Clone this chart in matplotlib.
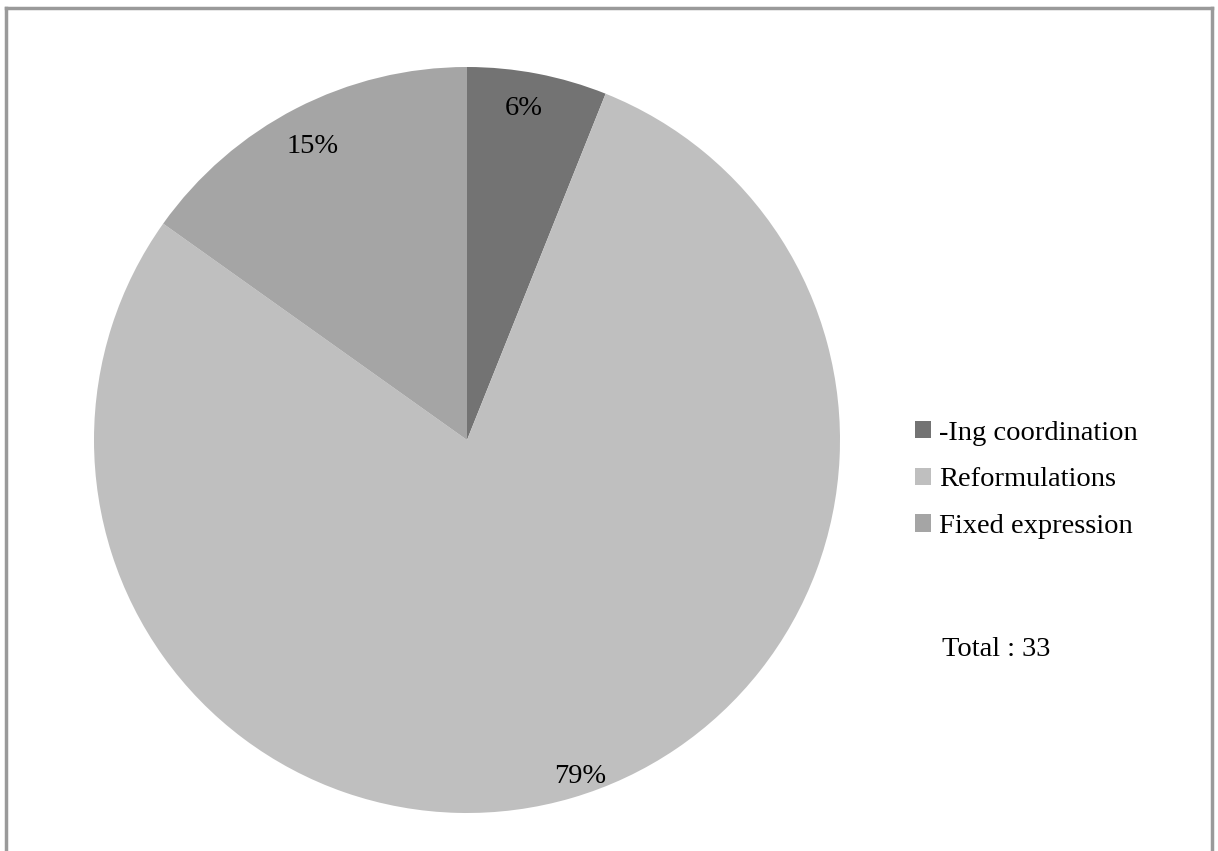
import matplotlib.pyplot as plt
from matplotlib.patches import Patch

categories = ["-Ing coordination", "Reformulations", "Fixed expression"]
counts = [2, 26, 5]
total = sum(counts)

colors = ["#737373", "#bfbfbf", "#a5a5a5"]
# label anchors in axes units (centre 0,0, radius 1)
label_pos = [(0.153, 0.89), (0.303, -0.901), (-0.413, 0.788)]

plt.rcParams["font.family"] = ["Liberation Serif", "DejaVu Serif"]

fig = plt.figure(figsize=(12.18, 8.51), dpi=100)

# outer frame: left, top and right edges only
frame = dict(color="#9a9a9a", lw=2.5, transform=fig.transFigure)
fig.add_artist(plt.Line2D([6 / 1218, 6 / 1218], [0, 1 - 8 / 851], **frame))
fig.add_artist(plt.Line2D([6 / 1218, 1212 / 1218], [1 - 8 / 851, 1 - 8 / 851], **frame))
fig.add_artist(plt.Line2D([1212 / 1218, 1212 / 1218], [0, 1 - 8 / 851], **frame))

ax = fig.add_axes([94 / 1218, 38 / 851, 746 / 1218, 746 / 851])
wedges, _ = ax.pie(counts, colors=colors, startangle=90, counterclock=False,
                   radius=1.0, wedgeprops=dict(linewidth=0))
ax.set_xlim(-1, 1)
ax.set_ylim(-1, 1)
ax.set_aspect("equal")
ax.axis("off")

for c, (x, y) in zip(counts, label_pos):
    ax.text(x, y, "{:.0f}%".format(100 * c / total), ha="center", va="center",
            fontsize=20.5)

handles = [Patch(facecolor=col, edgecolor="none") for col in colors]
fig.legend(handles, categories, loc="center left",
           bbox_to_anchor=(915 / 1218, 1 - 480 / 851), frameon=False,
           fontsize=20.5, handlelength=0.55, handleheight=0.55, handletextpad=0.3,
           labelspacing=0.76, borderaxespad=0, borderpad=0)

fig.text(942 / 1218, 1 - 650 / 851, "Total : {}".format(total), ha="left",
         va="center", fontsize=20.5)

fig.savefig("out.png", dpi=100)
